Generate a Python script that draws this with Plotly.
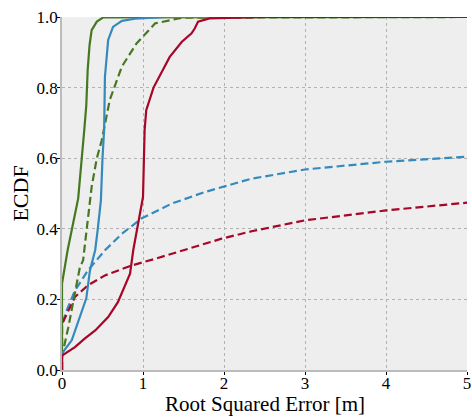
import plotly.graph_objects as go

# Solid ECDFs
green_solid_x = [0, 0, 0.07, 0.2, 0.275, 0.3, 0.317, 0.34, 0.366, 0.43, 0.51, 5]
green_solid_y = [0, 0.245, 0.34, 0.486, 0.68, 0.75, 0.85, 0.92, 0.963, 0.987, 0.999, 1.0]

blue_solid_x = [0, 0, 0.12, 0.22, 0.30, 0.345, 0.374, 0.41, 0.44, 0.48, 0.50, 0.52, 0.53, 0.55, 0.57, 0.63, 0.74, 0.9, 1.3, 5]
blue_solid_y = [0, 0.047, 0.084, 0.15, 0.203, 0.282, 0.31, 0.34, 0.396, 0.48, 0.60, 0.68, 0.83, 0.884, 0.935, 0.972, 0.989, 0.995, 1.0, 1.0]

red_solid_x = [0, 0, 0.16, 0.28, 0.41, 0.57, 0.69, 0.84, 0.88, 1.0, 1.02, 1.04, 1.13, 1.21, 1.33, 1.48, 1.60, 1.64, 1.68, 1.82, 2.5, 5]
red_solid_y = [0, 0.041, 0.065, 0.089, 0.112, 0.15, 0.192, 0.273, 0.34, 0.49, 0.68, 0.736, 0.80, 0.835, 0.887, 0.93, 0.954, 0.968, 0.987, 0.996, 1.0, 1.0]

# Dashed ECDFs
green_dash_x = [0, 0, 0.078, 0.16, 0.22, 0.26, 0.30, 0.366, 0.43, 0.49, 0.59, 0.74, 0.92, 1.15, 1.48, 5]
green_dash_y = [0, 0.04, 0.121, 0.217, 0.29, 0.31, 0.396, 0.519, 0.60, 0.65, 0.765, 0.86, 0.925, 0.982, 0.998, 1.0]

blue_dash_x = [0, 0, 0.06, 0.16, 0.32, 0.53, 0.74, 0.98, 1.35, 1.76, 2.34, 3.0, 4.0, 5.0]
blue_dash_y = [0, 0.13, 0.17, 0.225, 0.282, 0.339, 0.386, 0.429, 0.471, 0.504, 0.542, 0.568, 0.59, 0.604]

red_dash_x = [0, 0, 0.16, 0.32, 0.53, 0.86, 1.15, 1.56, 1.97, 2.34, 3.0, 4.0, 5.0]
red_dash_y = [0, 0.13, 0.207, 0.24, 0.268, 0.296, 0.315, 0.344, 0.372, 0.393, 0.424, 0.452, 0.474]

x_ticks = [0, 1, 2, 3, 4, 5]
y_ticks = [0.0, 0.2, 0.4, 0.6, 0.8, 1.0]
x_title = "Root Squared Error [m]"
y_title = "ECDF"

GREEN = "#467821"
BLUE = "#348ABD"
RED = "#A60628"

fig = go.Figure()
for xs, ys, c, d in [
    (blue_dash_x, blue_dash_y, BLUE, "8px,4px"),
    (red_dash_x, red_dash_y, RED, "8px,4px"),
    (green_dash_x, green_dash_y, GREEN, "8px,4px"),
    (green_solid_x, green_solid_y, GREEN, "solid"),
    (blue_solid_x, blue_solid_y, BLUE, "solid"),
    (red_solid_x, red_solid_y, RED, "solid"),
]:
    fig.add_trace(go.Scatter(x=xs, y=ys, mode="lines",
                             line=dict(color=c, width=2.2, dash=d),
                             showlegend=False, hoverinfo="skip", cliponaxis=False))

font = "Liberation Serif"
tickfont = dict(family=font, size=17, color="black")
fig.update_layout(
    width=472, height=417,
    margin=dict(l=62, r=5, t=17, b=47),
    paper_bgcolor="white",
    plot_bgcolor="#eeeeee",
    font=dict(family=font, size=17, color="black"),
    xaxis=dict(range=[0, 5], tickvals=x_ticks, ticktext=[str(v) for v in x_ticks],
               tickfont=tickfont, automargin=False, ticklabelstandoff=-6,
               showgrid=True, gridcolor="#b2b2b2", griddash="dot", gridwidth=1,
               showline=True, linecolor="#bcbcbc", linewidth=1.5,
               ticks="outside", ticklen=3, tickcolor="black",
               zeroline=False),
    yaxis=dict(range=[0, 1], tickvals=y_ticks, ticktext=[f"{v:.1f}" for v in y_ticks],
               tickfont=tickfont, automargin=False, ticklabelstandoff=-4,
               showgrid=True, gridcolor="#b2b2b2", griddash="dot", gridwidth=1,
               showline=True, linecolor="#bcbcbc", linewidth=1.5,
               ticks="outside", ticklen=3, tickcolor="black",
               zeroline=False,
               title=dict(text=y_title, font=dict(family=font, size=22), standoff=2)),
    annotations=[dict(text=x_title, xref="paper", yref="paper", x=0.5, y=0,
                      xanchor="center", yanchor="top", yshift=-21, showarrow=False,
                      borderpad=0,
                      font=dict(family=font, size=21, color="black"))],
)
fig.write_html("out.html", config={"displayModeBar": False},
               post_script="document.body.style.margin='0';document.body.style.padding='0';")
